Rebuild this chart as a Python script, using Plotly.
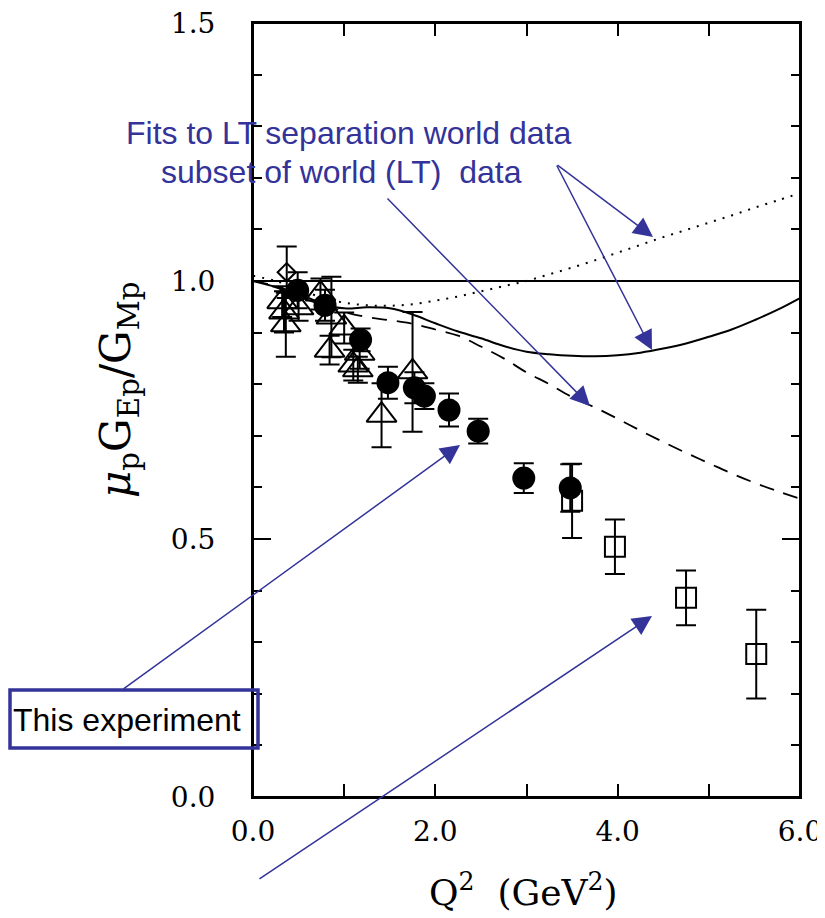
import plotly.graph_objects as go

# ---------------- data ----------------
# This experiment (filled circles)
exp_q2 = [0.49, 0.79, 1.18, 1.48, 1.77, 1.88, 2.15, 2.47, 2.97, 3.48]
exp_r = [0.982, 0.953, 0.886, 0.803, 0.793, 0.777, 0.750, 0.709, 0.618, 0.599]
exp_err = [0.035, 0.030, 0.022, 0.031, 0.030, 0.025, 0.032, 0.024, 0.029, 0.046]

# Earlier polarization data (open squares)
sq_q2 = [3.50, 3.97, 4.75, 5.52]
sq_r = [0.574, 0.485, 0.386, 0.277]
sq_err = [0.072, 0.053, 0.053, 0.086]

# Earlier data (open triangles)
tri_q2 = [0.32, 0.34, 0.36, 0.50, 0.74, 0.86, 0.84, 1.00, 1.10, 1.17, 1.15, 1.41, 1.75]
tri_r = [0.960, 0.940, 0.915, 0.948, 0.975, 0.930, 0.866, 0.909, 0.837, 0.860, 0.828, 0.740, 0.824]
tri_err = [0.030, 0.040, 0.062, 0.025, 0.030, 0.078, 0.028, 0.030, 0.030, 0.030, 0.025, 0.062, 0.116]

# Open diamond
dia_q2 = [0.37]
dia_r = [1.017]
dia_err = [0.050]

# Fit curves
fit_q2 = [0.0, 0.25, 0.5, 0.75, 1.0, 1.25, 1.5, 1.75, 2.0, 2.25, 2.5, 2.75, 3.0,
          3.25, 3.5, 3.75, 4.0, 4.25, 4.5, 4.75, 5.0, 5.25, 5.5, 5.75, 6.0]
fit_world = [1.010, 1.000, 0.985, 0.968, 0.958, 0.953, 0.952, 0.955, 0.962, 0.970,
             0.980, 0.990, 1.000, 1.013, 1.026, 1.040, 1.055, 1.070, 1.085, 1.099,
             1.113, 1.127, 1.142, 1.156, 1.170]
fit_solid = [1.000, 0.988, 0.970, 0.955, 0.947, 0.949, 0.947, 0.935, 0.918, 0.902,
             0.889, 0.874, 0.863, 0.858, 0.855, 0.854, 0.856, 0.861, 0.869, 0.879,
             0.892, 0.906, 0.924, 0.944, 0.967]
fit_subset = [1.000, 0.990, 0.975, 0.957, 0.940, 0.930, 0.924, 0.917, 0.906, 0.894,
              0.873, 0.850, 0.823, 0.800, 0.775, 0.755, 0.733, 0.710, 0.688, 0.667,
              0.647, 0.627, 0.609, 0.593, 0.578]

x_tickvals = [0, 2, 4, 6]
x_ticktext = ["0.0", "2.0", "4.0", "6.0"]
y_tickvals = [0, 0.5, 1.0, 1.5]
y_ticktext = ["0.0", "0.5", "1.0", "1.5"]

# ---------------- layout helpers ----------------
# the page puts the figure 8 px in from the top-left corner (body margin)
OFF = 8
W, H = 825 - OFF, 918 - OFF
ML, MT = 253 - OFF, 23 - OFF
PW, PH = 547, 774
MR = W - ML - PW
MB = H - MT - PH


def px(x):  # page pixel -> paper x
    return (x - OFF - ML) / PW


def py(y):  # page pixel -> paper y
    return (MT + PH - (y - OFF)) / PH


BLUE = "rgb(51,51,153)"
SERIF = "DejaVu Serif"
SANS = "Liberation Sans"

fig = go.Figure()

# curves
fig.add_trace(go.Scatter(x=fit_q2, y=fit_world, mode="lines",
                         line=dict(color="black", width=2, dash="2px,7px", shape="spline"),
                         hoverinfo="skip", showlegend=False))
fig.add_trace(go.Scatter(x=fit_q2, y=fit_solid, mode="lines",
                         line=dict(color="black", width=2, shape="spline"),
                         hoverinfo="skip", showlegend=False))
fig.add_trace(go.Scatter(x=fit_q2, y=fit_subset, mode="lines",
                         line=dict(color="black", width=1.8, dash="15px,10px", shape="spline"),
                         hoverinfo="skip", showlegend=False))

eb = dict(type="data", color="black", thickness=2, width=10)

fig.add_trace(go.Scatter(x=tri_q2, y=tri_r, mode="markers",
                         error_y=dict(array=tri_err, **eb),
                         marker=dict(symbol="triangle-up-open", size=26, color="black",
                                     line=dict(width=2, color="black")),
                         showlegend=False))
fig.add_trace(go.Scatter(x=dia_q2, y=dia_r, mode="markers",
                         error_y=dict(array=dia_err, **eb),
                         marker=dict(symbol="diamond-open", size=14, color="black",
                                     line=dict(width=2, color="black")),
                         showlegend=False))
fig.add_trace(go.Scatter(x=sq_q2, y=sq_r, mode="markers",
                         error_y=dict(array=sq_err, **eb),
                         marker=dict(symbol="square-open", size=20, color="black",
                                     line=dict(width=2, color="black")),
                         showlegend=False))
fig.add_trace(go.Scatter(x=exp_q2, y=exp_r, mode="markers",
                         error_y=dict(array=exp_err, **eb),
                         marker=dict(symbol="circle", size=23, color="black"),
                         showlegend=False))

# unity line
fig.add_shape(type="line", xref="x", yref="y", x0=0, x1=6, y0=1, y1=1,
              line=dict(color="black", width=1.8))
# plot frame
fig.add_shape(type="rect", xref="paper", yref="paper", x0=0, x1=1, y0=0, y1=1,
              line=dict(color="black", width=2), fillcolor="rgba(0,0,0,0)", layer="above")

# "This experiment" box
fig.add_shape(type="rect", xref="paper", yref="paper",
              x0=px(10), x1=px(258), y0=py(748), y1=py(690),
              line=dict(color=BLUE, width=3.5), fillcolor="rgba(0,0,0,0)", layer="above")

annotations = []
annotations.append(dict(xref="paper", yref="paper", x=px(11), y=py(720),
                        xanchor="left", yanchor="middle", showarrow=False,
                        text="This experiment", font=dict(family=SANS, size=32, color="black")))
annotations.append(dict(xref="paper", yref="paper", x=px(124), y=py(133),
                        xanchor="left", yanchor="middle", showarrow=False,
                        text="Fits to LT separation world data",
                        font=dict(family=SANS, size=32, color=BLUE)))
annotations.append(dict(xref="paper", yref="paper", x=px(159), y=py(172),
                        xanchor="left", yanchor="middle", showarrow=False,
                        text="subset of world (LT)  data",
                        font=dict(family=SANS, size=32, color=BLUE)))

arrows = [((460, 445), (122, 690)),
          ((652, 616), (258, 880)),
          ((590, 406), (386, 197)),
          ((653, 237), (556, 164)),
          ((652, 350), (556, 164))]
for (hx, hy), (tx, ty) in arrows:
    annotations.append(dict(xref="paper", yref="paper", x=px(hx), y=py(hy),
                            ax=tx - hx, ay=ty - hy, axref="pixel", ayref="pixel",
                            text="", showarrow=True, arrowhead=2, arrowsize=2.6,
                            arrowwidth=1.5, arrowcolor=BLUE, standoff=0, startstandoff=0))

# axis titles
annotations.append(dict(xref="paper", yref="paper", x=px(118), y=py(390),
                        xanchor="center", yanchor="middle", showarrow=False, textangle=-90,
                        text="<i>μ</i><sub>p</sub>G<sub>Ep</sub>/G<sub>Mp</sub>",
                        font=dict(family=SERIF, size=42, color="black")))
annotations.append(dict(xref="paper", yref="paper", x=px(523), y=py(890),
                        xanchor="center", yanchor="middle", showarrow=False,
                        text="Q<sup>2</sup>  (GeV<sup>2</sup>)",
                        font=dict(family=SERIF, size=36, color="black")))

fig.update_layout(
    template="none",
    width=W, height=H, autosize=False,
    margin=dict(l=ML, r=MR, t=MT, b=MB, pad=0, autoexpand=False),
    paper_bgcolor="white", plot_bgcolor="white",
    showlegend=False,
    annotations=annotations,
    xaxis=dict(range=[0, 6], tickmode="array", tickvals=x_tickvals, ticktext=x_ticktext,
               ticks="inside", ticklen=13, tickwidth=1.8, tickcolor="black",
               minor=dict(dtick=1, ticks="inside", ticklen=13, tickwidth=1.8, tickcolor="black"),
               showline=True, linecolor="black", linewidth=2, mirror="ticks",
               showgrid=False, zeroline=False, ticklabelstandoff=8, automargin=False,
               ticklabeloverflow="allow",
               tickfont=dict(family=SERIF, size=28, color="black")),
    yaxis=dict(range=[0, 1.5], tickmode="array", tickvals=y_tickvals, ticktext=y_ticktext,
               ticks="inside", ticklen=18, tickwidth=1.8, tickcolor="black",
               minor=dict(dtick=0.1, ticks="inside", ticklen=9, tickwidth=1.8, tickcolor="black"),
               showline=True, linecolor="black", linewidth=2, mirror="ticks",
               showgrid=False, zeroline=False, ticklabelstandoff=30, automargin=False,
               ticklabeloverflow="allow",
               tickfont=dict(family=SERIF, size=28, color="black")),
)

fig.write_html("out.html")
